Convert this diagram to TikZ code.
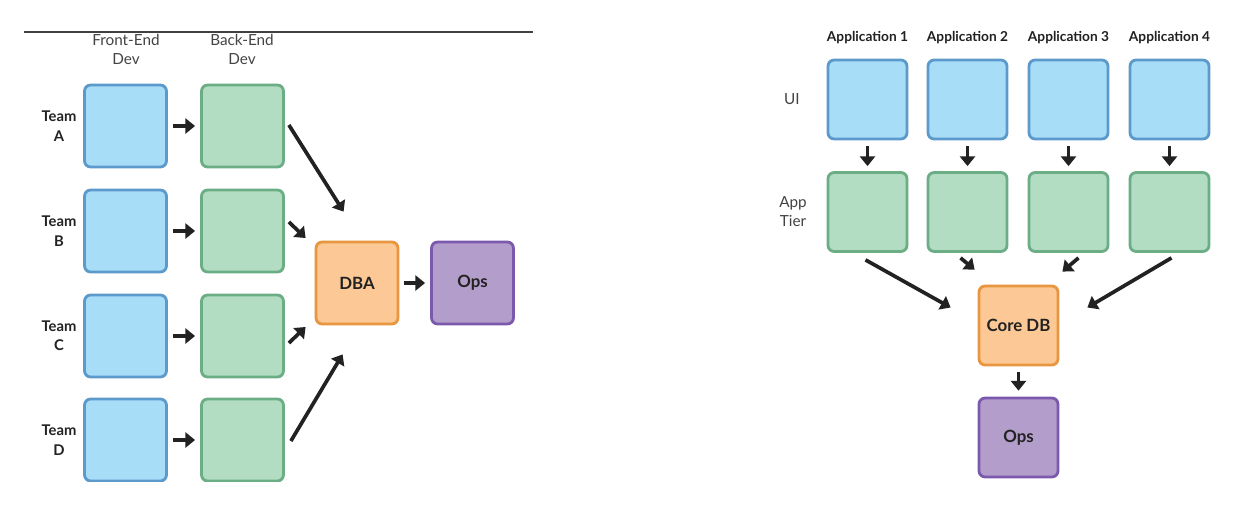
\documentclass[tikz,border=0pt]{standalone}
\usepackage{fontspec}
\setmainfont{Lato}
\usetikzlibrary{arrows.meta,calc}
\definecolor{bluef}{HTML}{A8DDF7}
\definecolor{blued}{HTML}{5B9ACB}
\definecolor{greenf}{HTML}{B2DDC3}
\definecolor{greend}{HTML}{6BAE86}
\definecolor{orangef}{HTML}{FBC896}
\definecolor{oranged}{HTML}{E8963F}
\definecolor{purplef}{HTML}{B39DCB}
\definecolor{purpled}{HTML}{7B5AAE}
\definecolor{txt}{HTML}{222222}
\tikzset{
  box/.style={draw, line width=1.6pt, rounded corners=3.5pt, minimum width=1.64cm, minimum height=1.64cm, inner sep=0pt, font=\bfseries\fontsize{9.6}{11}\selectfont, text=txt},
  sbox/.style={box, minimum width=1.58cm, minimum height=1.58cm},
  bluebox/.style={fill=bluef, draw=blued},
  greenbox/.style={fill=greenf, draw=greend},
  orangebox/.style={fill=orangef, draw=oranged},
  purplebox/.style={fill=purplef, draw=purpled},
  arr/.style={line width=2.1pt, -{Triangle[length=5.5pt,width=8.5pt]}, color=txt},
  lab/.style={font=\bfseries\fontsize{8.4}{11}\selectfont, text=txt, align=center},
  alab/.style={font=\bfseries\fontsize{7.8}{10}\selectfont, text=txt, align=center},
  hlab/.style={font=\fontsize{8.7}{10.8}\selectfont, text=txt!85, align=center},
}
\begin{document}
\begin{tikzpicture}[x=0.02cm,y=-0.02cm]
\useasboundingbox[fill=white] (0,0) rectangle (1252,514);
\draw[line width=0.6pt, color=black!75] (24,32) -- (533,32);
% ---------- left panel ----------
\node[hlab] (hfe) at (126,49) {Front-End\\Dev};
\node[hlab] (hbe) at (242,49) {Back-End\\Dev};
\begin{scope}
\clip (0,0) rectangle (626,481);
\foreach \n/\y/\t in {a/126/A, b/231/B, c/336/C, d/440/D}{
  \node[lab] (team\n) at (59,\y) {Team\\\t};
  \node[box,bluebox] (fe\n) at (125.5,\y) {};
  \node[box,greenbox] (be\n) at (242.5,\y) {};
}
\end{scope}
\foreach \n in {a,b,c,d}{
  \draw[arr, shorten <=0.1cm, shorten >=0.1cm] (fe\n) -- (be\n);
}
\node[box,orangebox] (dba) at (357,283) {DBA};
\node[box,purplebox] (ops) at (472.5,283) {Ops};
\draw[arr, shorten <=0.1cm, shorten >=0.1cm] (dba) -- (ops);
\coordinate (la1) at ($(bea.east)+(4,-1)$);
\coordinate (la2) at ($(dba.north west)+(29,-29)$);
\coordinate (lb1) at ($(beb.east)+(4,-9)$);
\coordinate (lb2) at ($(dba.west)+(-9,-45)$);
\coordinate (lc1) at ($(bec.east)+(4,7)$);
\coordinate (lc2) at ($(dba.west)+(-9,44)$);
\coordinate (ld1) at ($(bed.east)+(6,1)$);
\coordinate (ld2) at ($(dba.south west)+(28,29)$);
\draw[arr] (la1) -- (la2);
\draw[arr] (lb1) -- (lb2);
\draw[arr] (lc1) -- (lc2);
\draw[arr] (ld1) -- (ld2);
% ---------- right panel ----------
\node[hlab] (ui) at (792,99) {UI};
\node[hlab] (tier) at (793,212) {App\\Tier};
\foreach \i/\x in {1/867.5,2/967.5,3/1068.5,4/1169.5}{
  \node[alab] (app\i) at (\x,38) {Application \i};
  \node[sbox,bluebox] (ui\i) at (\x,99.5) {};
  \node[sbox,greenbox] (at\i) at (\x,212) {};
  \draw[arr, shorten <=0.12cm, shorten >=0.1cm] (ui\i) -- (at\i);
}
\node[sbox,orangebox] (core) at (1018.5,325.5) {Core DB};
\begin{scope}
\clip (626,0) rectangle (1252,479);
\node[sbox,purplebox] (ops2) at (1018.5,437.5) {Ops};
\end{scope}
\draw[arr, shorten <=0.12cm, shorten >=0.12cm] (core) -- (ops2);
\coordinate (r11) at ($(at1.south)+(-2,7)$);
\coordinate (r12) at ($(core.west)+(-27,-18)$);
\coordinate (r21) at ($(at2.south)+(-7,5)$);
\coordinate (r22) at ($(core.north west)+(-3,-15)$);
\coordinate (r31) at ($(at3.south)+(10,5)$);
\coordinate (r32) at ($(core.north east)+(3,-13)$);
\coordinate (r41) at ($(at4.south)+(2,5)$);
\coordinate (r42) at ($(core.east)+(28,-18)$);
\draw[arr] (r11) -- (r12);
\draw[arr] (r21) -- (r22);
\draw[arr] (r31) -- (r32);
\draw[arr] (r41) -- (r42);
\end{tikzpicture}
\end{document}
